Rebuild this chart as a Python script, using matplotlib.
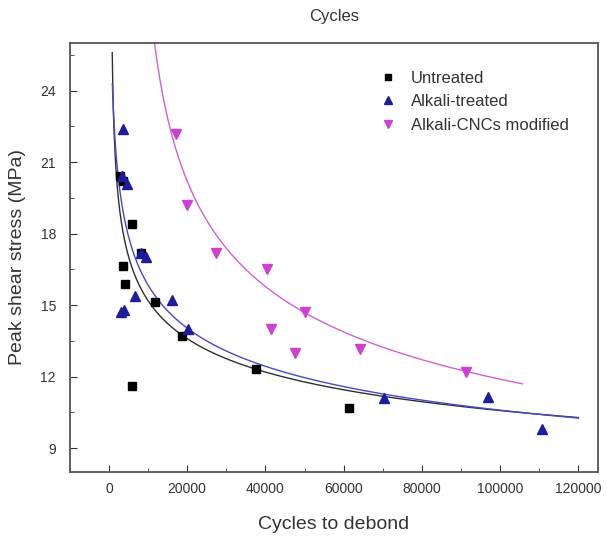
import numpy as np
import matplotlib
matplotlib.use("Agg")
import matplotlib.pyplot as plt
from matplotlib.ticker import MultipleLocator

plt.rcParams['font.family'] = ['Liberation Sans', 'DejaVu Sans']

# Untreated
untreated_x = [2800, 3500, 5800, 8200, 3650, 4100, 11900, 18800, 5800, 37500, 61300]
untreated_y = [20.4, 20.2, 18.4, 17.2, 16.65, 15.9, 15.15, 13.7, 11.6, 12.3, 10.7]

# Alkali-treated
alkali_x = [3650, 3250, 4500, 8300, 9600, 6600, 16200, 3000, 3800, 20200, 70200, 96800, 110800]
alkali_y = [22.4, 20.4, 20.1, 17.2, 17.0, 15.4, 15.2, 14.7, 14.8, 14.0, 11.1, 11.15, 9.8]

# Alkali-CNCs modified
cnc_x = [17100, 20000, 27300, 40400, 41500, 47500, 50000, 64100, 91300]
cnc_y = [22.2, 19.2, 17.2, 16.5, 14.0, 13.0, 14.7, 13.15, 12.2]

# power fit curves y = a*(x - xc)^b, parameters
# (a, b, xc, x start, x end)
untreated_fit = (62.2, -0.154, 531, 850, 120000)
alkali_fit = (79.4, -0.175, 0, 870, 120000)
cnc_fit = (288.5, -0.2785, 6000, 11000, 105700)


def fit_curve(p):
    a, b, xc, x0, x1 = p
    xs = np.linspace(x0, x1, 800)
    return xs, a * (xs - xc) ** b


fig = plt.figure(figsize=(6.07, 5.38), dpi=100)
ax = fig.add_axes([0.115, 0.123, 0.87, 0.797])

xs, ys = fit_curve(untreated_fit)
ax.plot(xs, ys, color='#303030', lw=1.0)
xs, ys = fit_curve(alkali_fit)
ax.plot(xs, ys, color='#4848c8', lw=1.0)
xs, ys = fit_curve(cnc_fit)
ax.plot(xs, ys, color='#d060d0', lw=1.0)

ax.plot(untreated_x, untreated_y, 's', color='black', ms=5.5, ls='none', label='Untreated')
ax.plot(alkali_x, alkali_y, '^', color='#1c1c9c', ms=7, ls='none', label='Alkali-treated')
ax.plot(cnc_x, cnc_y, 'v', color='#d040d0', ms=7, ls='none', label='Alkali-CNCs modified')

ax.set_xlim(-10000, 125000)
ax.set_ylim(8, 26)
ax.xaxis.set_major_locator(MultipleLocator(20000))
ax.xaxis.set_minor_locator(MultipleLocator(10000))
ax.yaxis.set_major_locator(MultipleLocator(3))
ax.yaxis.set_minor_locator(MultipleLocator(1.5))
ax.tick_params(which='both', direction='in', top=False, right=False, labelsize=10, colors='#333333')
ax.tick_params(which='major', length=5)
ax.tick_params(which='minor', length=3)
ax.tick_params(axis='y', pad=10)
ax.tick_params(axis='x', pad=7)
for s in ax.spines.values():
    s.set_color('#555555')
    s.set_linewidth(1.3)

ax.set_xlabel('Cycles to debond', fontsize=14, color='#333333', labelpad=15)
ax.set_ylabel('Peak shear stress (MPa)', fontsize=14, color='#333333', labelpad=10)
ax.set_title('Cycles', fontsize=12, color='#333333', pad=16)

ax.legend(loc='upper left', bbox_to_anchor=(0.555, 0.97), frameon=False, fontsize=12,
          handletextpad=0.8, labelspacing=0.5, markerscale=0.85, labelcolor='#333333',
          handlelength=1.2)

fig.savefig('out.png', dpi=100)
